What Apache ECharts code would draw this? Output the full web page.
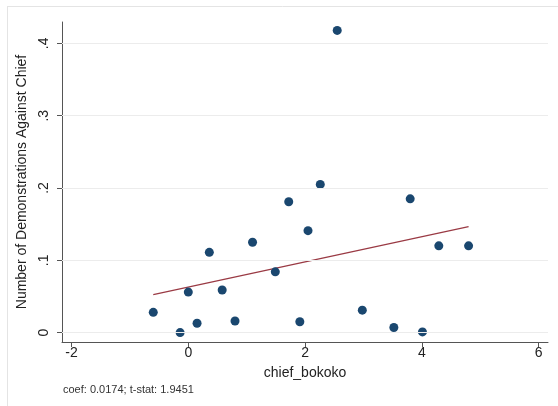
<!DOCTYPE html>
<html>
<head>
<meta charset="utf-8">
<script src="https://cdn.jsdelivr.net/npm/echarts@6/dist/echarts.min.js"></script>
<style>
html,body{margin:0;padding:0;background:#fff;}
#chart{width:558px;height:406px;}
</style>
</head>
<body>
<div id="chart"></div>
<script>
// Data
var chiefBokoko = [-0.60, -0.14, 0.00, 0.15, 0.36, 0.58, 0.80, 1.10, 1.49, 1.72, 1.91, 2.05, 2.26, 2.55, 2.98, 3.52, 3.80, 4.01, 4.29, 4.80];
var demonstrations = [0.028, 0.000, 0.056, 0.013, 0.111, 0.059, 0.016, 0.125, 0.084, 0.181, 0.015, 0.141, 0.205, 0.418, 0.031, 0.007, 0.185, 0.001, 0.120, 0.120];
var fitX = [-0.60, 4.80];
var fitY = [0.0526, 0.1465];
var xTicks = [-2, 0, 2, 4, 6];
var yTicks = [0, 0.1, 0.2, 0.3, 0.4];
var yTickLabels = ['0', '.1', '.2', '.3', '.4'];
var noteText = 'coef: 0.0174; t-stat: 1.9451';

var points = chiefBokoko.map(function (x, i) { return [x, demonstrations[i]]; });
var fitLine = fitX.map(function (x, i) { return [x, fitY[i]]; });

var font = 'Liberation Sans, Arial, Helvetica, sans-serif';
var chart = echarts.init(document.getElementById('chart'), null, {renderer: 'canvas'});
chart.setOption({
  animation: false,
  backgroundColor: '#ffffff',
  grid: {left: 62, top: 22, right: 10, bottom: 64, containLabel: false},
  xAxis: {
    type: 'value', min: -2.163, max: 6.16,
    name: 'chief_bokoko', nameLocation: 'middle', nameGap: 24,
    nameTextStyle: {color: '#222', fontSize: 14, fontFamily: font},
    axisLine: {show: true, onZero: false, lineStyle: {color: '#555', width: 1}},
    axisTick: {show: true, customValues: xTicks, length: 5, lineStyle: {color: '#555'}},
    axisLabel: {customValues: xTicks, color: '#222', fontSize: 14, fontFamily: font, margin: 4},
    splitLine: {show: false}
  },
  yAxis: {
    type: 'value', min: -0.013, max: 0.4296,
    name: 'Number of Demonstrations Against Chief', nameLocation: 'middle', nameGap: 31,
    nameTextStyle: {color: '#222', fontSize: 14, fontFamily: font},
    axisLine: {show: true, onZero: false, lineStyle: {color: '#555', width: 1}},
    axisTick: {show: true, customValues: yTicks, length: 5, lineStyle: {color: '#555'}},
    axisLabel: {
      customValues: yTicks, rotate: 90, color: '#222', fontSize: 14, fontFamily: font, margin: 11,
      formatter: function (v) {
        for (var i = 0; i < yTicks.length; i++) { if (Math.abs(v - yTicks[i]) < 1e-9) return yTickLabels[i]; }
        return '';
      }
    },
    splitLine: {show: false}
  },
  series: [
    {
      type: 'scatter', data: points, symbolSize: 9, z: 3,
      itemStyle: {color: '#1a476f', opacity: 1},
      markLine: {
        silent: true, symbol: ['none', 'none'], label: {show: false},
        lineStyle: {color: '#ececec', type: 'solid', width: 1},
        data: yTicks.map(function (v) { return {yAxis: v}; })
      }
    },
    {
      type: 'line', data: fitLine, showSymbol: false, symbol: 'none', z: 2,
      lineStyle: {color: '#9a3a44', width: 1.2}
    }
  ],
  graphic: [
    {type: 'line', shape: {x1: 7, y1: 6.5, x2: 558, y2: 6.5}, style: {stroke: '#e4e4e4', lineWidth: 1}},
    {type: 'line', shape: {x1: 7.5, y1: 6, x2: 7.5, y2: 406}, style: {stroke: '#e4e4e4', lineWidth: 1}},
    {type: 'text', left: 63, top: 384, style: {text: noteText, fill: '#333', fontSize: 11, fontFamily: font}}
  ]
});
</script>
</body>
</html>
